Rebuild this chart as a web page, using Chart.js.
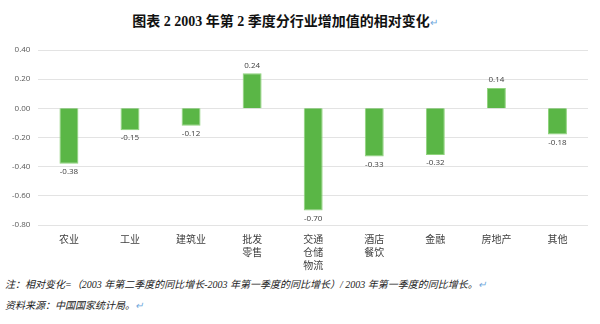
<!DOCTYPE html>
<html lang="zh">
<head>
<meta charset="UTF-8" />
<title>分行业增加值的相对变化</title>
<script src="https://cdn.jsdelivr.net/npm/chart.js"></script>
<style>
  body { margin: 0; width: 600px; height: 324px; background: #fff; position: relative; overflow: hidden; font-family: "Noto Sans CJK SC", sans-serif; }
  #title { position: absolute; top: 10px; left: 0; width: 570px; text-align: center; font-size: 14px; font-weight: bold; color: #111; font-family: "Liberation Serif", "Noto Sans CJK SC", serif; }
  .mark { color: #6fa8dc; font-weight: normal; font-size: 10px; }
  #wrap { position: absolute; left: 0; top: 36px; width: 600px; height: 236px; }
  .note { position: absolute; left: 5px; font-size: 10px; font-style: italic; color: #222; font-family: "Liberation Serif", "Noto Sans CJK SC", serif; }
</style>
</head>
<body>
  <div id="title">图表 2 2003 年第 2 季度分行业增加值的相对变化<span class="mark">↵</span></div>
  <div id="wrap"><canvas id="chart" width="600" height="236"></canvas></div>
  <div class="note" style="top:276px">注：相对变化=（2003 年第二季度的同比增长-2003 年第一季度的同比增长）/ 2003 年第一季度的同比增长。<span class="mark">↵</span></div>
  <div class="note" style="top:297px">资料来源：中国国家统计局。<span class="mark">↵</span></div>

<script>
  // 行业
  const categories = [
    '农业', '工业', '建筑业', ['批发', '零售'], ['交通', '仓储', '物流'],
    ['酒店', '餐饮'], '金融', '房地产', '其他'
  ];
  // 相对变化
  const values = [-0.38, -0.15, -0.12, 0.24, -0.70, -0.33, -0.32, 0.14, -0.18];
  const yMin = -0.80, yMax = 0.40, yStep = 0.20;

  // 数据标签
  const labelPlugin = {
    id: 'barLabels',
    afterDatasetsDraw(chart) {
      const ctx = chart.ctx;
      const meta = chart.getDatasetMeta(0);
      ctx.save();
      ctx.font = '8px "Open Sans", sans-serif';
      ctx.fillStyle = '#404040';
      ctx.textAlign = 'center';
      meta.data.forEach((bar, i) => {
        const v = values[i];
        if (v >= 0) {
          ctx.textBaseline = 'bottom';
          ctx.fillText(v.toFixed(2), bar.x, bar.y - 4);
        } else {
          ctx.textBaseline = 'top';
          ctx.fillText(v.toFixed(2), bar.x, bar.y + 4);
        }
      });
      ctx.restore();
    }
  };

  new Chart(document.getElementById('chart'), {
    type: 'bar',
    data: {
      labels: categories,
      datasets: [{
        data: values,
        backgroundColor: '#5ab646',
        borderColor: '#8fd37c',
        borderWidth: 1,
        barPercentage: 0.62,
        categoryPercentage: 0.5
      }]
    },
    options: {
      responsive: false,
      animation: false,
      layout: { padding: { left: 4, right: 12, top: 14, bottom: 0 } },
      plugins: { legend: { display: false }, tooltip: { enabled: false } },
      scales: {
        x: {
          grid: { display: false },
          border: { display: false },
          ticks: { color: '#404040', font: { size: 10, family: '"Noto Sans CJK SC"', lineHeight: 1.3 }, maxRotation: 0, autoSkip: false, padding: 0 }
        },
        y: {
          min: yMin, max: yMax,
          ticks: { stepSize: yStep, color: '#595959', font: { size: 8, family: '"Open Sans", sans-serif' }, padding: 8,
            callback: v => v.toFixed(2) },
          grid: { color: '#e3e3e3', drawTicks: false },
          border: { display: false }
        }
      }
    },
    plugins: [labelPlugin]
  });
</script>
</body>
</html>
